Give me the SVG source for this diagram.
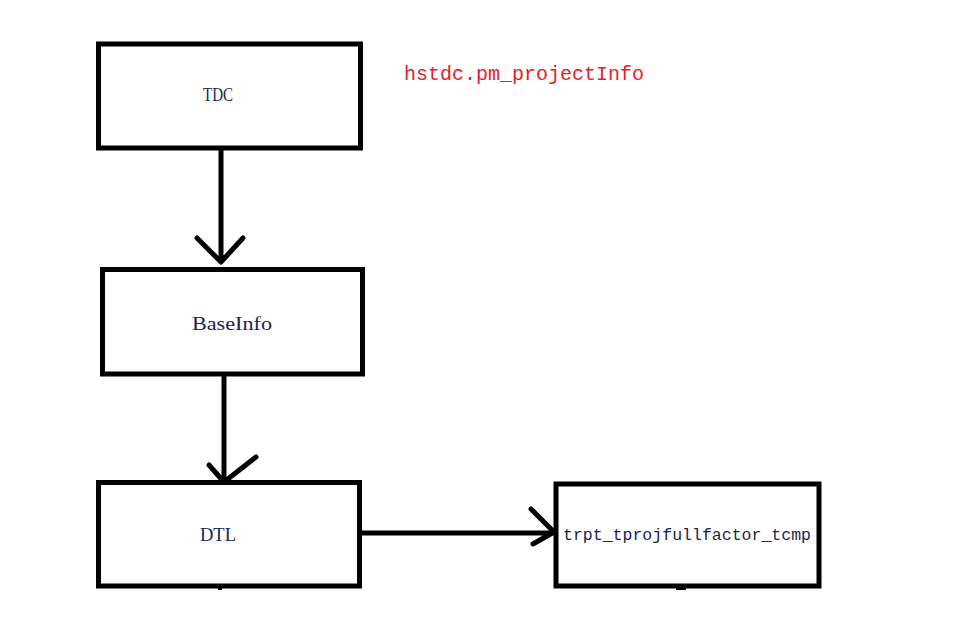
<svg xmlns="http://www.w3.org/2000/svg" width="964" height="631" viewBox="0 0 964 631">
<style>
.box{fill:#fff;stroke:#000;stroke-width:5}
.ln{fill:none;stroke:#000;stroke-width:5;stroke-linecap:round;stroke-linejoin:round}
.t{font-family:"Liberation Serif",serif;font-size:18px;fill:#1a2450}
.m{font-family:"Liberation Mono",monospace;font-size:16.5px;fill:#1a2450}
.r{font-family:"Liberation Mono",monospace;font-size:20px;fill:#e8202a}
</style>
<rect width="964" height="631" fill="#fff"/>
<g id="connectors">
<path class="ln" d="M221,150 V261 M197,238 L221,262 L243,238"/>
<path class="ln" d="M224,375 V481 M209,465 L224,482 L256,457"/>
<path class="ln" d="M360,533 H553 M531,509 L554,532 L533,544"/>
</g>
<g id="tdc"><rect class="box" x="98.5" y="44" width="262" height="104"/><text class="t" x="203" y="101" textLength="30" lengthAdjust="spacingAndGlyphs">TDC</text></g>
<g id="baseinfo"><rect class="box" x="102.5" y="269.5" width="260" height="104.5"/><text class="t" x="192" y="330" textLength="80" lengthAdjust="spacingAndGlyphs">BaseInfo</text></g>
<g id="dtl"><rect class="box" x="98.5" y="482.5" width="261" height="103.5"/><text class="t" x="200" y="541" textLength="36" lengthAdjust="spacingAndGlyphs">DTL</text></g>
<g id="tcmp"><rect class="box" x="556" y="484" width="263" height="102"/><text class="m" x="563" y="540" textLength="248">trpt_tprojfullfactor_tcmp</text></g>
<g id="note"><text class="r" x="404" y="80" textLength="240">hstdc.pm_projectInfo</text></g>
<rect x="218" y="588" width="4" height="2" fill="#000"/>
<rect x="676" y="588" width="10" height="2" fill="#000"/>
</svg>
